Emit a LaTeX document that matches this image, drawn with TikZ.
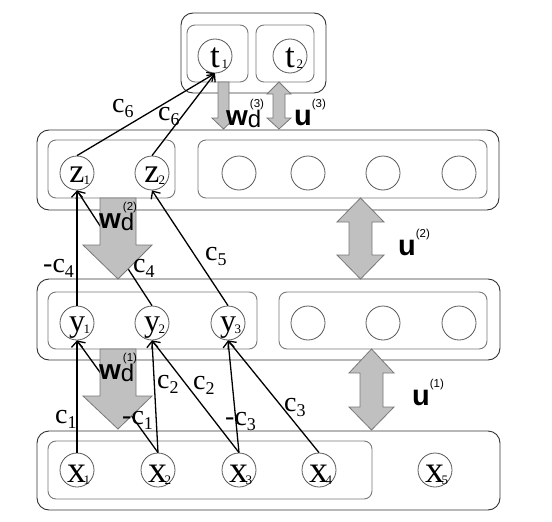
\documentclass[tikz,border=0pt]{standalone}
\usepackage{fontspec}
\setmainfont{Liberation Serif}
\setsansfont{Liberation Sans}
\usetikzlibrary{arrows.meta}
\definecolor{arrfill}{RGB}{192,192,192}
\definecolor{arrline}{RGB}{120,120,120}
\definecolor{innerline}{RGB}{120,120,120}
\definecolor{outerline}{RGB}{50,50,50}
\newcommand\nodelab[4]{\makebox[0pt]{\smash{\raisebox{-#4pt}{\makebox[0pt]{\fontsize{#3}{#3}\selectfont #1}\makebox[0pt][l]{\kern6.5pt\raisebox{-2pt}{\fontsize{13}{13}\selectfont #2}}}}}}
\newcommand\clab[2]{{\fontsize{28}{28}\selectfont #1c}\raisebox{-5pt}{\fontsize{18}{18}\selectfont #2}}
\newcommand\wlab[1]{\sffamily{\fontsize{28}{28}\selectfont\bfseries w}\rlap{\raisebox{-2pt}{\fontsize{24}{24}\selectfont d}}\kern2pt\raisebox{18pt}{\fontsize{11.5}{11.5}\selectfont (#1)}}
\newcommand\ulab[1]{\sffamily{\fontsize{29}{29}\selectfont\bfseries u}\raisebox{18pt}{\fontsize{11.5}{11.5}\selectfont (#1)}}
\tikzset{
  outerbox/.style={draw=outerline, line width=0.9pt, rounded corners=12pt},
  innerbox/.style={draw=innerline, line width=0.9pt, rounded corners=8pt},
  unit/.style={circle, draw=black!65, line width=0.8pt, fill=white, minimum size=34pt, inner sep=0pt},
  conn/.style={draw=black, line width=1.3pt, -{Straight Barb[length=6pt,width=11pt,line width=1.3pt]}},
  blockarrow/.style={fill=arrfill, draw=arrline, line width=0.8pt, line join=miter},
  lab/.style={inner sep=0pt, anchor=base west}
}
\begin{document}
\begin{tikzpicture}[x=1pt,y=-1pt]
\useasboundingbox (0,0) rectangle (552,522);
% boxes
\draw[outerbox] (181,13) rectangle (326,93);
\draw[innerbox] (187,25) rectangle (248,82);
\draw[innerbox] (256,25) rectangle (314,82);
\draw[outerbox] (37,130) rectangle (499,210);
\draw[innerbox] (48,140) rectangle (175,198);
\draw[innerbox] (198,140) rectangle (487,198);
\draw[outerbox] (37,279) rectangle (500,360);
\draw[innerbox] (48,292) rectangle (257,349);
\draw[innerbox] (279,292) rectangle (487,349);
\draw[outerbox] (37,431) rectangle (500,510);
\draw[innerbox] (48,441) rectangle (372,499);
% units
\node[unit] (t1) at (215,56) {\nodelab{t}{1}{35}{11}};
\node[unit] (t2) at (290,56) {\nodelab{t}{2}{35}{11}};
\node[unit] (z1) at (77,173) {\nodelab{z}{1}{34}{9}};
\node[unit] (z2) at (152,173) {\nodelab{z}{2}{34}{9}};
\node[unit] (zr1) at (239,173) {};
\node[unit] (zr2) at (308,173) {};
\node[unit] (zr3) at (383,173) {};
\node[unit] (zr4) at (459,173) {};
\node[unit] (y1) at (77,323) {\nodelab{y}{1}{32}{8}};
\node[unit] (y2) at (152,323) {\nodelab{y}{2}{32}{8}};
\node[unit] (y3) at (228,323) {\nodelab{y}{3}{32}{8}};
\node[unit] (yr1) at (308,323) {};
\node[unit] (yr2) at (383,323) {};
\node[unit] (yr3) at (459,323) {};
\node[unit] (x1) at (77,470) {\nodelab{x}{1}{38}{12}};
\node[unit] (x2) at (158,470) {\nodelab{x}{2}{38}{12}};
\node[unit] (x3) at (239,470) {\nodelab{x}{3}{38}{12}};
\node[unit] (x4) at (319,470) {\nodelab{x}{4}{38}{12}};
\node[unit] (x5) at (435,470) {\nodelab{x}{5}{38}{12}};
% connectors
\draw[conn] (x1.north) -- (y1.south);
\draw[conn] (x2.north) -- (y1.south);
\draw[conn] (x2.north) -- (y2.south);
\draw[conn] (x3.north) -- (y2.south);
\draw[conn] (x3.north) -- (y3.south);
\draw[conn] (x4.north) -- (y3.south);
\draw[conn] (y1.north) -- (z1.south);
\draw[conn] (y2.north) -- (z1.south);
\draw[conn] (y3.north) -- (z2.south);
\draw[conn] (z1.north) -- (t1.south);
\draw[conn] (z2.north) -- (t1.south);
% block arrows
\draw[blockarrow] (218,82) -- (229,82) -- (229,118) -- (235,118) -- (223.5,129) -- (212,118) -- (218,118) -- cycle;
\draw[blockarrow] (279,82) -- (291,94) -- (285,94) -- (285,118) -- (291,118) -- (279,129) -- (267,118) -- (273,118) -- (273,94) -- (267,94) -- cycle;
\draw[blockarrow] (100,198) -- (136,198) -- (136,245) -- (152,245) -- (118,279) -- (83,245) -- (100,245) -- cycle;
\draw[blockarrow] (100,349) -- (136,349) -- (136,396) -- (152,396) -- (118,429) -- (83,396) -- (100,396) -- cycle;
\draw[blockarrow] (360.5,198) -- (384,222) -- (372,222) -- (372,255) -- (384,255) -- (360.5,279) -- (337,255) -- (349,255) -- (349,222) -- (337,222) -- cycle;
\draw[blockarrow] (371.5,349) -- (394,373) -- (383,373) -- (383,407) -- (394,407) -- (371.5,430) -- (349,407) -- (360,407) -- (360,373) -- (349,373) -- cycle;
% labels
\node[lab] (lc1) at (55,423) {\clab{}{1}};
\node[lab] (lmc1) at (122,424) {\clab{-}{1}};
\node[lab] (lc2a) at (157,388) {\clab{}{2}};
\node[lab] (lc2b) at (193,389) {\clab{}{2}};
\node[lab] (lmc3) at (225,425) {\clab{-}{3}};
\node[lab] (lc3) at (284,411) {\clab{}{3}};
\node[lab] (lmc4) at (43,272) {\clab{-}{4}};
\node[lab] (lc4) at (133,272) {\clab{}{4}};
\node[lab] (lc5) at (205,260) {\clab{}{5}};
\node[lab] (lc6a) at (112,112) {\clab{}{6}};
\node[lab] (lc6b) at (158,120) {\clab{}{6}};
\node[lab] (lw3) at (226,125) {\wlab{3}};
\node[lab] (lu3) at (294,125) {\ulab{3}};
\node[lab] (lw2) at (99,228) {\wlab{2}};
\node[lab] (lw1) at (99,379) {\wlab{1}};
\node[lab] (lu2) at (398,255) {\ulab{2}};
\node[lab] (lu1) at (412,405) {\ulab{1}};
\end{tikzpicture}
\end{document}
